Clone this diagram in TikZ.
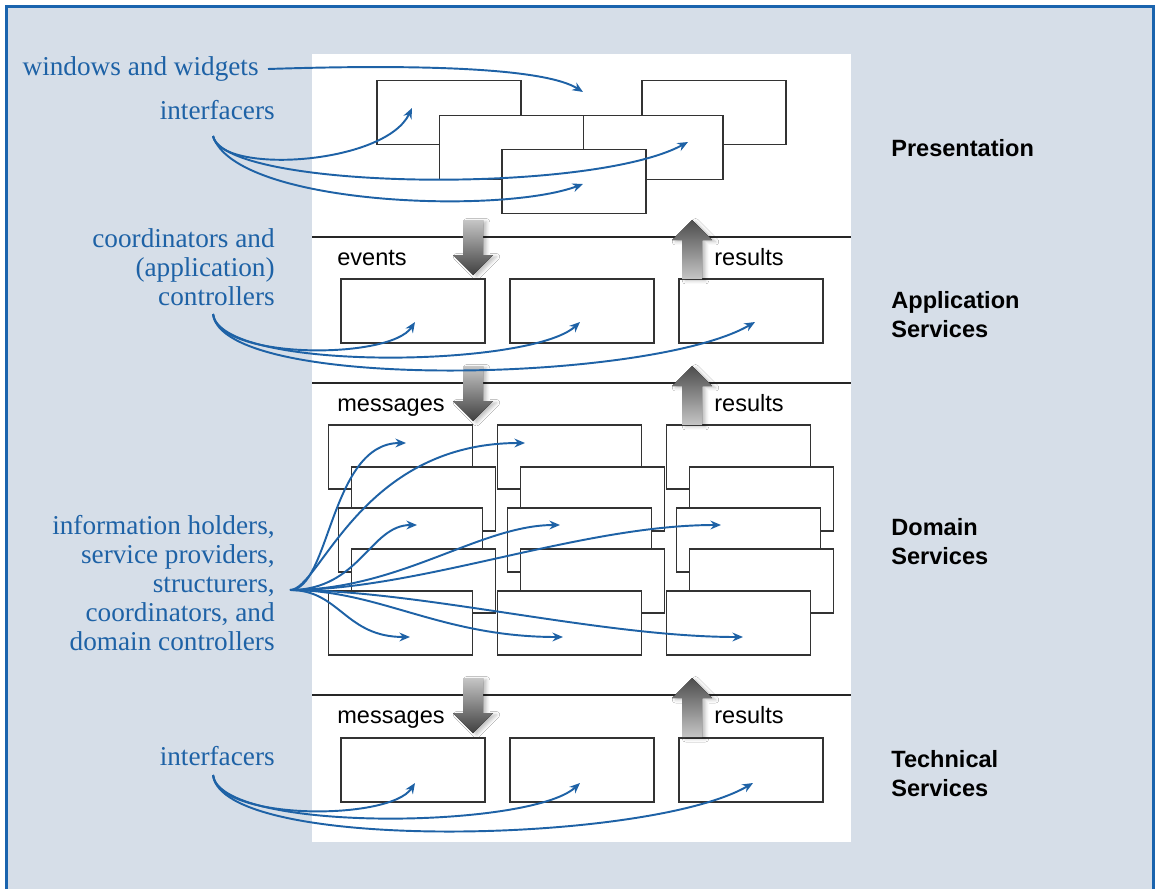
\documentclass[tikz,border=0pt]{standalone}
\usepackage{fontspec}
\setmainfont{Liberation Serif}
\setsansfont{Liberation Sans}
\usepackage{xcolor}
\usepackage{tikz}
\usetikzlibrary{arrows.meta,shadows.blur}

\definecolor{panelbg}{RGB}{214,222,232}
\definecolor{roleblue}{RGB}{30,98,166}
\definecolor{frameblue}{RGB}{26,100,174}

\tikzset{
  objbox/.style={draw=black!80, line width=0.7pt, fill=white, minimum width=2.88cm, minimum height=1.28cm, inner sep=0pt},
  role/.style={text=roleblue, font=\fontsize{15.5}{16.4}\selectfont, align=right, anchor=base east, inner sep=0pt},
  layer/.style={font=\sffamily\bfseries\fontsize{13.4}{16.4}\selectfont, align=left, anchor=base west, inner sep=0pt},
  flow/.style={font=\sffamily\fontsize{13.4}{16}\selectfont, anchor=base, inner sep=0pt},
  link/.style={roleblue, line width=1.1pt, -{Stealth[length=6pt,width=5pt]}},
  sepline/.style={line width=1.4pt, black!85}
}

\begin{document}
\begin{tikzpicture}[x=0.02cm, y=-0.02cm]
\useasboundingbox (0,0) rectangle (1155,889);

%% fond et cadre
\fill[panelbg] (6.5,6.5) rectangle (1153.5,889);
\draw[frameblue, line width=1.2pt] (6.5,889) -- (6.5,6.5) -- (1153.5,6.5) -- (1153.5,889);
\fill[white] (312,54) rectangle (851,842);

%% presentation
\node[objbox] (p1) at (449,112.5) {};
\node[objbox] (p2) at (714,112.5) {};
\node[objbox] (p4) at (651,147.5) {};
\node[objbox] (p3) at (511.5,147.5) {};
\node[objbox] (p5) at (574,181.5) {};

%% application services
\node[objbox] (a1) at (413,311) {};
\node[objbox] (a2) at (582,311) {};
\node[objbox] (a3) at (751,311) {};

%% domain services
\foreach \r/\dx/\yy in {1/0/457, 2/23/499, 3/10/540, 4/23/581, 5/0/623}
  \foreach \c in {0,1,2}
    \node[objbox] (d\r\c) at ({400.5+\dx+169*\c},\yy) {};

%% technical services
\node[objbox] (t1) at (413,770) {};
\node[objbox] (t2) at (582,770) {};
\node[objbox] (t3) at (751,770) {};

%% separations
\draw[sepline] (312,237) -- (851,237);
\draw[sepline] (312,383) -- (851,383);
\draw[sepline] (312,695) -- (851,695);

%% fleches grises
\foreach \y in {220,366,678} {
  \fill[top color=gray!45, bottom color=black!75, blur shadow={shadow xshift=2pt, shadow yshift=-1pt, shadow opacity=25}]
    (463,\y) -- (483,\y) -- (483,\y+35) -- (493,\y+35) -- (473,\y+55) -- (453,\y+35) -- (463,\y+35) -- cycle;
  \fill[top color=black!70, bottom color=gray!45, blur shadow={shadow xshift=2pt, shadow yshift=-1pt, shadow opacity=25}]
    (692,\y) -- (712,\y+20) -- (702,\y+20) -- (702,\y+59) -- (682,\y+59) -- (682,\y+20) -- (672,\y+20) -- cycle;
}

\node[flow] (ev) at (372,265) {events};
\node[flow] (res1) at (749,265) {results};
\node[flow] (msg1) at (391,411) {messages};
\node[flow] (res2) at (749,411) {results};
\node[flow] (msg2) at (391,723) {messages};
\node[flow] (res3) at (749,723) {results};

%% couches (base = derniere ligne)
\node[layer] (lpres) at (891,156) {Presentation};
\node[layer] (lapp) at (891,337) {Application\\Services};
\node[layer] (ldom) at (891,564) {Domain\\Services};
\node[layer] (ltech) at (891,796) {Technical\\Services};

%% roles
\node[role] (win) at (259,75) {windows and widgets};
\node[role] (ifp) at (275,119) {interfacers};
\node[role] (coord) at (275,305) {coordinators and\\(application)\hspace*{4pt}\\controllers};
\node[role] (dom) at (275,650) {information holders,\\service providers,\\structurers,\\coordinators, and\\domain controllers};
\node[role] (ift) at (275,765) {interfacers};

%% departs et arrivees
\coordinate (winS) at (268,69);
\coordinate (ifpS) at (213,136);
\coordinate (coordS) at (213,314);
\coordinate (domS) at (290,590);
\coordinate (iftS) at (213,775);

\coordinate (p0t) at (583,92);
\coordinate (p1t) at (412,108);
\coordinate (p4t) at (688,142);
\coordinate (p5t) at (583,184);

\coordinate (a1t) at (415,322);
\coordinate (a2t) at (580,322);
\coordinate (a3t) at (755,322);

\coordinate (d10t) at (406,443);
\coordinate (d11t) at (525,443);
\coordinate (d30t) at (417,525);
\coordinate (d31t) at (560,525);
\coordinate (d32t) at (721,525);
\coordinate (d50t) at (410,637);
\coordinate (d51t) at (563,637);
\coordinate (d52t) at (743,637);

\coordinate (t1t) at (415,783);
\coordinate (t2t) at (580,783);
\coordinate (t3t) at (753,783);

%% fleches bleues
\draw[link] (winS) .. controls +(152,-5) and +(-38,-24) .. (p0t);
\draw[link] (ifpS) .. controls +(7,39) and +(-27,57) .. (p1t);
\draw[link] (ifpS) .. controls +(12,54) and +(-98,53) .. (p4t);
\draw[link] (ifpS) .. controls +(22,69) and +(-83,31) .. (p5t);

\draw[link] (coordS) .. controls +(5,46) and +(-25,38) .. (a1t);
\draw[link] (coordS) .. controls +(7,58) and +(-50,46) .. (a2t);
\draw[link] (coordS) .. controls +(9,78) and +(-105,61) .. (a3t);

\draw[link] (domS) .. controls +(40,0) and +(-76,0) .. (d10t);
\draw[link] (domS) .. controls +(30,0) and +(-165,0) .. (d11t);
\draw[link] (domS) .. controls +(70,0) and +(-47,0) .. (d30t);
\draw[link] (domS) .. controls +(110,0) and +(-80,0) .. (d31t);
\draw[link] (domS) .. controls +(130,0) and +(-141,0) .. (d32t);
\draw[link] (domS) .. controls +(50,0) and +(-65,0) .. (d50t);
\draw[link] (domS) .. controls +(90,0) and +(-123,0) .. (d51t);
\draw[link] (domS) .. controls +(130,0) and +(-143,0) .. (d52t);

\draw[link] (iftS) .. controls +(5,46) and +(-25,38) .. (t1t);
\draw[link] (iftS) .. controls +(7,58) and +(-50,46) .. (t2t);
\draw[link] (iftS) .. controls +(9,78) and +(-105,61) .. (t3t);
\end{tikzpicture}
\end{document}
